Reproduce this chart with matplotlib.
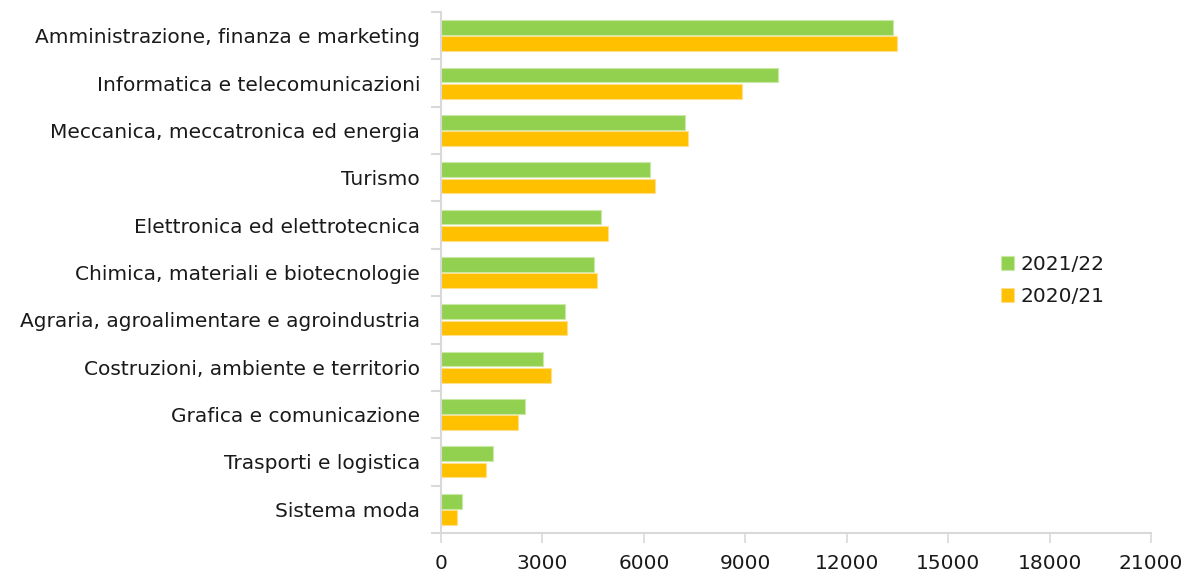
import matplotlib
matplotlib.use("Agg")
import matplotlib.pyplot as plt
import numpy as np

categories = [
    "Amministrazione, finanza e marketing",
    "Informatica e telecomunicazioni",
    "Meccanica, meccatronica ed energia",
    "Turismo",
    "Elettronica ed elettrotecnica",
    "Chimica, materiali e biotecnologie",
    "Agraria, agroalimentare e agroindustria",
    "Costruzioni, ambiente e territorio",
    "Grafica e comunicazione",
    "Trasporti e logistica",
    "Sistema moda",
]
values_2021_22 = [13370, 9970, 7220, 6180, 4740, 4540, 3675, 3025, 2485, 1540, 620]
values_2020_21 = [13490, 8905, 7305, 6325, 4950, 4620, 3735, 3245, 2280, 1330, 475]
series_labels = ["2021/22", "2020/21"]
xticks = [0, 3000, 6000, 9000, 12000, 15000, 18000, 21000]

plt.rcParams['font.family'] = ['DejaVu Sans']
fs = 14.5

fig = plt.figure(figsize=(11.91, 5.72), dpi=100)
ax = fig.add_axes([441/1191, 1-533/572, (1151-441)/1191, (533-12)/572])

n = len(categories)
y = np.arange(n)
h = 0.31
green = "#92D050"
orange = "#FFC000"
ax.barh(y - 0.172, values_2021_22, height=h, color=green, edgecolor="#c9eaa6",
        linewidth=0.8, label=series_labels[0])
ax.barh(y + 0.172, values_2020_21, height=h, color=orange, edgecolor="#ffe08a",
        linewidth=0.8, label=series_labels[1])

ax.set_ylim(n - 0.5, -0.5)
ax.set_xlim(0, 21000)
ax.set_yticks(y)
ax.set_yticklabels(categories, fontsize=fs, color="#1a1a1a")
ax.set_yticks(np.arange(n + 1) - 0.5, minor=True)
ax.tick_params(axis='y', which='major', length=0, pad=15)
ax.tick_params(axis='y', which='minor', length=7, width=1.5, color="#d9d9d9")
ax.set_xticks(xticks)
ax.set_xticklabels([str(v) for v in xticks], fontsize=fs, color="#1a1a1a")
ax.tick_params(axis='x', length=7, width=1.2, color="#d9d9d9", pad=8)

for s in ["top", "right"]:
    ax.spines[s].set_visible(False)
for s in ["left", "bottom"]:
    ax.spines[s].set_color("#d9d9d9")
    ax.spines[s].set_linewidth(1.5)

leg = fig.legend(loc="upper left", bbox_to_anchor=(983/1191, 1-237/572), frameon=False,
                 fontsize=fs, handlelength=0.65, handleheight=0.65, handletextpad=0.3,
                 labelspacing=0.65)
for t in leg.get_texts():
    t.set_color("#1a1a1a")

fig.savefig("out.png", dpi=100)
